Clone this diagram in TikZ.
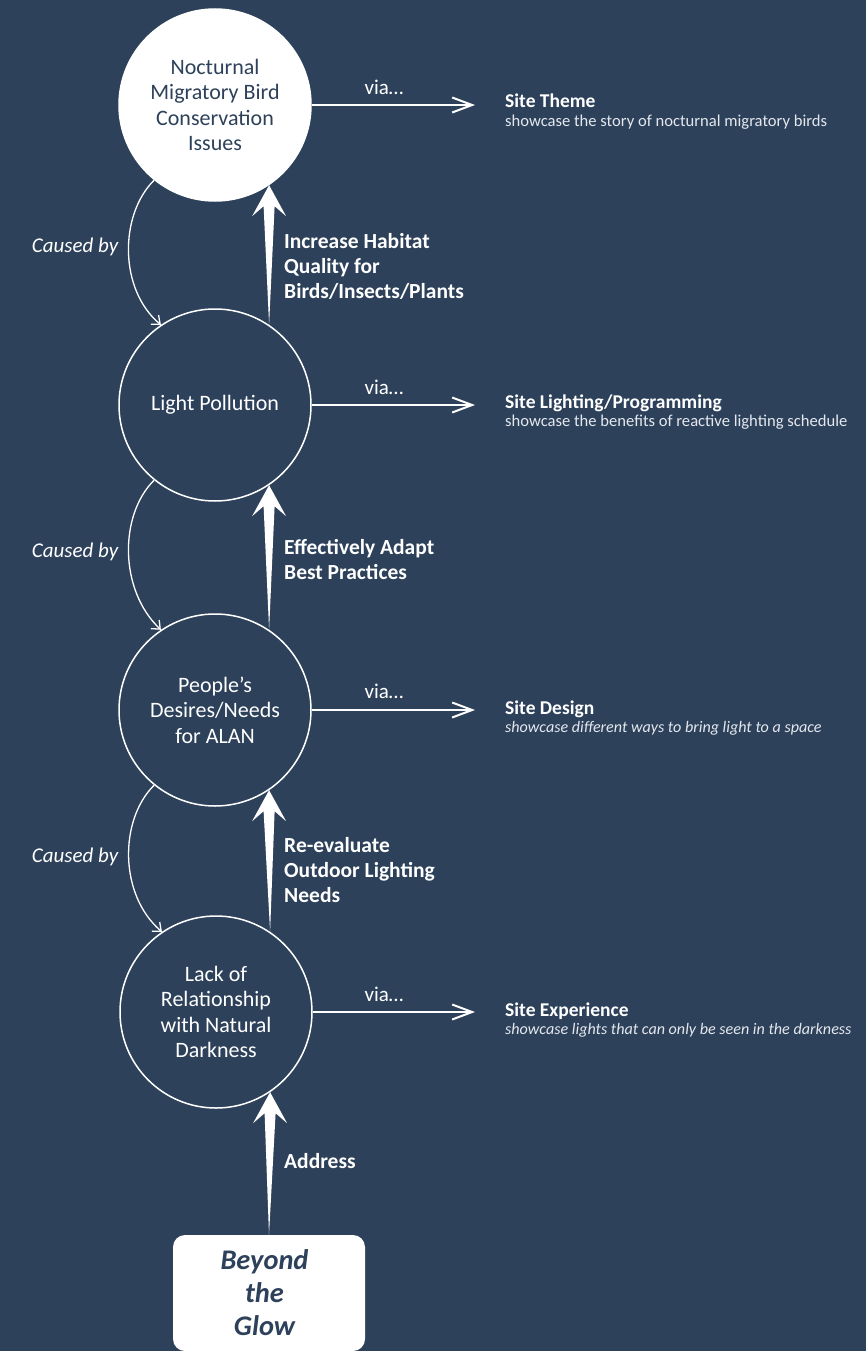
\documentclass[tikz,border=0pt]{standalone}
\usepackage{fontspec}
\setmainfont{Carlito}
\usetikzlibrary{arrows.meta,calc}
\definecolor{bg}{RGB}{45,65,90}
\definecolor{subtxt}{RGB}{228,232,238}
\newcommand\taparrow[2]{%
  \fill[white] (#1) -- ($(#2)+(5.5,21)$) -- ($(#2)+(17,31)$) -- (#2) --
    ($(#2)+(-17,31)$) -- ($(#2)+(-5.5,21)$) -- cycle;}
\begin{document}
\begin{tikzpicture}[x=1pt,y=-1pt,
  issue/.style={circle, draw=white, line width=1.5pt, minimum size=192pt,
    inner sep=0pt, text=white, align=center,
    font=\fontsize{22}{25.5}\selectfont},
  via/.style={draw=white, line width=2pt,
    -{Straight Barb[length=20pt,width=15pt,line width=2pt]}},
  vialabel/.style={text=white, font=\fontsize{21}{24}\selectfont, inner sep=0pt},
  cause/.style={draw=white, line width=1.3pt,
    -{Straight Barb[length=7pt,width=12pt,line width=1.3pt]}},
  causelabel/.style={text=white, font=\fontsize{21}{24}\selectfont\itshape, inner sep=0pt},
  lab/.style={text=white, align=left, anchor=west, inner sep=0pt,
    font=\fontsize{21.5}{25}\selectfont\bfseries},
  ttl/.style={text=white, anchor=base west, inner sep=0pt,
    font=\fontsize{19.5}{22}\selectfont\bfseries},
  subt/.style={text=subtxt, anchor=base west, inner sep=0pt,
    font=\fontsize{16.6}{19}\selectfont},
  subti/.style={subt, font=\fontsize{16.1}{19}\selectfont\itshape},
  box/.style={fill=white, rounded corners=12pt, minimum width=192pt,
    minimum height=116pt, inner sep=0pt, text=bg, align=center,
    font=\fontsize{28.4}{33}\selectfont\bfseries\itshape}
]
\fill[bg] (0,0) rectangle (866,1351);

% issue circles
\node[issue, fill=white, text=bg] (c1) at (215,105) {Nocturnal\\Migratory Bird\\Conservation\\Issues};
\node[issue] (c2) at (215,405) {Light Pollution};
\node[issue] (c3) at (215,710) {People’s\\Desires/Needs\\for ALAN};
\node[issue] (c4) at (216,1012) {Lack of\\Relationship\\with Natural\\Darkness};

% project box
\node[box] (b) at (269,1293) {\hspace*{-9pt}Beyond\\\hspace*{-9pt}the\\\hspace*{-9pt}Glow};

% via arrows and targets
\coordinate (t1) at (475,105);
\coordinate (t2) at (475,405);
\coordinate (t3) at (475,710);
\coordinate (t4) at (475,1012);
\draw[via] (c1.east) -- (t1);
\draw[via] (c2.east) -- (t2);
\draw[via] (c3.east) -- (t3);
\draw[via] (c4.east) -- (t4);
\node[vialabel] (v1) at (384,87) {via…};
\node[vialabel] (v2) at (384,387) {via…};
\node[vialabel] (v3) at (384,691) {via…};
\node[vialabel] (v4) at (384,994) {via…};

\node[ttl] (s1) at (505,108) {Site Theme};
\node[subt] (d1) at (505,126.5) {showcase the story of nocturnal migratory birds};
\node[ttl] (s2) at (505,408) {Site Lighting/Programming};
\node[subt] (d2) at (505,426.5) {showcase the benefits of reactive lighting schedule};
\node[ttl] (s3) at (505,714) {Site Design};
\node[subti] (d3) at (505,732.5) {showcase different ways to bring light to a space};
\node[ttl] (s4) at (505,1016) {Site Experience};
\node[subti] (d4) at (505,1034.5) {showcase lights that can only be seen in the darkness};

% caused-by curves
\draw[cause] (c1.231) .. controls (119,215) and (119,290) .. (c2.124);
\draw[cause] (c2.231) .. controls (119,515) and (119,590) .. (c3.124);
\draw[cause] (c3.231) .. controls (119,820) and (119,895) .. (c4.124);
\node[causelabel] (k1) at (75,247) {Caused by};
\node[causelabel] (k2) at (75,552) {Caused by};
\node[causelabel] (k3) at (75,857) {Caused by};

% tapered upward arrows
\taparrow{c2.56.5}{c1.-56.5}
\taparrow{c3.56.5}{c2.-56.5}
\taparrow{c4.56.5}{c3.-56.5}
\taparrow{b.north}{c4.-56.5}

\node[lab] (l1) at (284,266) {Increase Habitat\\Quality for\\Birds/Insects/Plants};
\node[lab] (l2) at (284,560) {Effectively Adapt\\Best Practices};
\node[lab] (l3) at (284,870) {Re-evaluate\\Outdoor Lighting\\Needs};
\node[lab] (l4) at (284,1161) {Address};
\end{tikzpicture}
\end{document}
